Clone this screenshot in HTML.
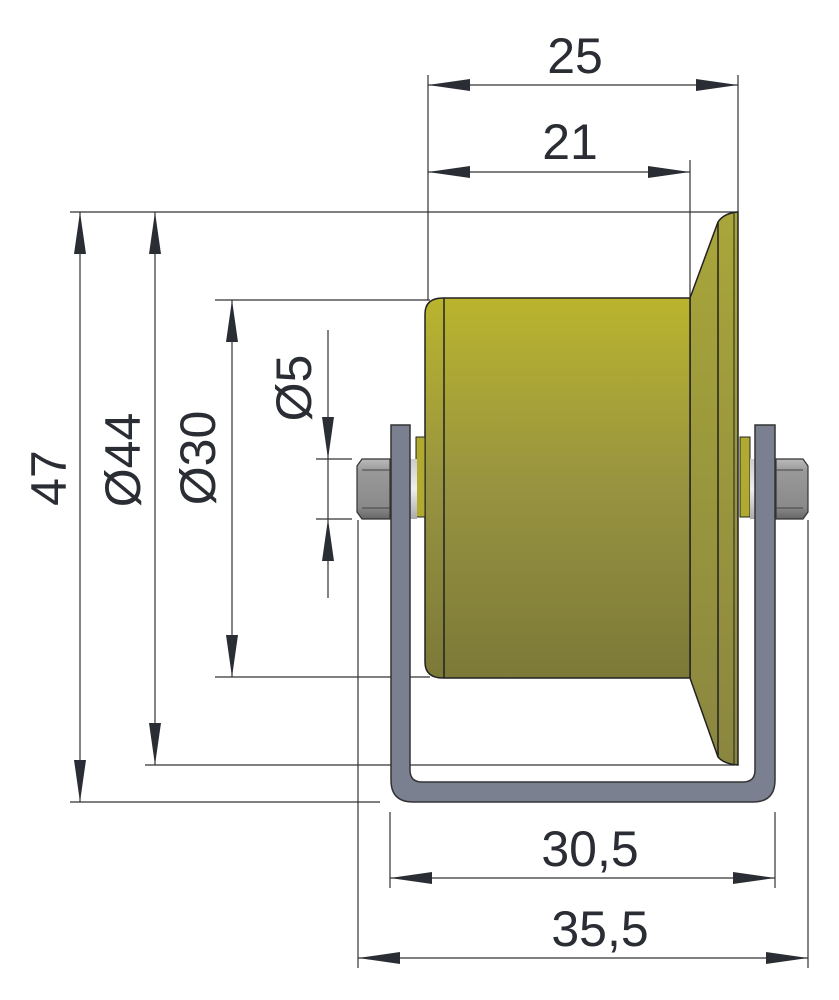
<!DOCTYPE html>
<html><head><meta charset="utf-8"><style>
html,body{margin:0;padding:0;background:#fff;}
svg{display:block;}
text{font-family:"Liberation Sans","DejaVu Sans",sans-serif;fill:#2a2d33;font-size:50px;}
</style></head><body>
<svg width="839" height="1000" viewBox="0 0 839 1000" xmlns="http://www.w3.org/2000/svg">
<defs>
<linearGradient id="yg" x1="0" y1="0" x2="0" y2="1">
<stop offset="0" stop-color="#bab42e"/><stop offset="0.5" stop-color="#979340"/><stop offset="1" stop-color="#7c7938"/>
</linearGradient>
<linearGradient id="fg" x1="0" y1="0" x2="0" y2="1">
<stop offset="0" stop-color="#a9a63a"/><stop offset="1" stop-color="#8a8640"/>
</linearGradient>
<linearGradient id="ng" x1="0" y1="0" x2="0" y2="1">
<stop offset="0" stop-color="#bbb"/><stop offset="0.2" stop-color="#999"/><stop offset="0.8" stop-color="#8a8a8a"/><stop offset="1" stop-color="#666"/>
</linearGradient>
<linearGradient id="sg" x1="0" y1="0" x2="0" y2="1">
<stop offset="0" stop-color="#ccc"/><stop offset="0.5" stop-color="#eee"/><stop offset="1" stop-color="#aaa"/>
</linearGradient>
</defs>
<g stroke="#333" stroke-width="1.2" fill="none">
<!-- extension lines -->
<line x1="428" y1="75" x2="428" y2="300"/>
<line x1="738" y1="75" x2="738" y2="212"/>
<line x1="690" y1="160" x2="690" y2="298"/>
<line x1="70" y1="212" x2="738" y2="212"/>
<line x1="215" y1="300" x2="430" y2="300"/>
<line x1="215" y1="677" x2="430" y2="677"/>
<line x1="145" y1="765" x2="735" y2="765"/>
<line x1="70" y1="802" x2="380" y2="802"/>
<line x1="358" y1="520" x2="358" y2="968"/>
<line x1="808" y1="520" x2="808" y2="968"/>
<line x1="390" y1="812" x2="390" y2="888"/>
<line x1="775" y1="812" x2="775" y2="888"/>
<line x1="316" y1="459" x2="352" y2="459"/>
<line x1="316" y1="519" x2="352" y2="519"/>
<!-- dimension lines -->
<line x1="428" y1="85" x2="738" y2="85"/>
<line x1="428" y1="172" x2="690" y2="172"/>
<line x1="80" y1="212" x2="80" y2="802"/>
<line x1="155" y1="212" x2="155" y2="765"/>
<line x1="232" y1="300" x2="232" y2="677"/>
<line x1="328" y1="330" x2="328" y2="598"/>
<line x1="390" y1="878" x2="775" y2="878"/>
<line x1="358" y1="958" x2="808" y2="958"/>
</g>
<g fill="#2a2d33">
<!-- horizontal arrows -->
<polygon points="428,85 470,79 470,91"/><polygon points="738,85 696,79 696,91"/>
<polygon points="428,172 470,166 470,178"/><polygon points="690,172 648,166 648,178"/>
<polygon points="390,878 432,872 432,884"/><polygon points="775,878 733,872 733,884"/>
<polygon points="358,958 400,952 400,964"/><polygon points="808,958 766,952 766,964"/>
<!-- vertical arrows -->
<polygon points="80,212 74,254 86,254"/><polygon points="80,802 74,760 86,760"/>
<polygon points="155,212 149,254 161,254"/><polygon points="155,765 149,723 161,723"/>
<polygon points="232,300 226,342 238,342"/><polygon points="232,677 226,635 238,635"/>
<polygon points="328,459 322,417 334,417"/><polygon points="328,519 322,561 334,561"/>
</g>
<!-- labels -->
<text x="575" y="73" text-anchor="middle">25</text>
<text x="570" y="159" text-anchor="middle">21</text>
<text x="590" y="866" text-anchor="middle">30,5</text>
<text x="600" y="946" text-anchor="middle">35,5</text>
<text transform="translate(66,478) rotate(-90)" text-anchor="middle">47</text>
<text transform="translate(140,460) rotate(-90)" text-anchor="middle">Ø44</text>
<text transform="translate(215,458) rotate(-90)" text-anchor="middle">Ø30</text>
<text transform="translate(311,388) rotate(-90)" text-anchor="middle">Ø5</text>
<!-- flange -->
<path d="M690,298 L718,222 Q724,213 738,212 L738,765 Q724,764 718,757 L690,678 Z" fill="url(#fg)" stroke="#222" stroke-width="1.5"/>
<line x1="718" y1="222" x2="718" y2="757" stroke="#222" stroke-width="1.5"/>
<line x1="734" y1="213" x2="734" y2="765" stroke="#222" stroke-width="1"/>
<!-- drum -->
<path d="M443,298 L690,298 L690,678 L443,678 Q425,678 425,662 L425,314 Q425,298 443,298 Z" fill="url(#yg)" stroke="#222" stroke-width="1.5"/>
<line x1="444" y1="298" x2="444" y2="678" stroke="#222" stroke-width="1.5"/>
<!-- washers -->
<rect x="416" y="437" width="9" height="80" fill="#b0aa30" stroke="#222" stroke-width="1"/>
<rect x="740" y="437" width="10" height="80" fill="#b0aa30" stroke="#222" stroke-width="1"/>
<!-- shaft -->
<rect x="408" y="459" width="9" height="60" fill="url(#sg)"/>
<rect x="750" y="459" width="8" height="60" fill="url(#sg)"/>
<!-- bracket -->
<path d="M391,425 L410,425 L410,770 Q410,782 422,782 L743,782 Q755,782 755,770 L755,425 L775,425 L775,780 Q775,802 753,802 L413,802 Q391,802 391,780 Z" fill="#7a8090" stroke="#333" stroke-width="1.5"/>
<!-- nuts -->
<path d="M362,459 L390,459 L390,519 L362,519 L357,512 L357,466 Z" fill="url(#ng)" stroke="#333" stroke-width="1.2"/>
<path d="M776,459 L803,459 L808,466 L808,512 L803,519 L776,519 Z" fill="url(#ng)" stroke="#333" stroke-width="1.2"/>
<line x1="362" y1="470" x2="390" y2="470" stroke="#444"/><line x1="362" y1="508" x2="390" y2="508" stroke="#444"/>
<line x1="776" y1="470" x2="803" y2="470" stroke="#444"/><line x1="776" y1="508" x2="803" y2="508" stroke="#444"/>
</svg>
</body></html>
